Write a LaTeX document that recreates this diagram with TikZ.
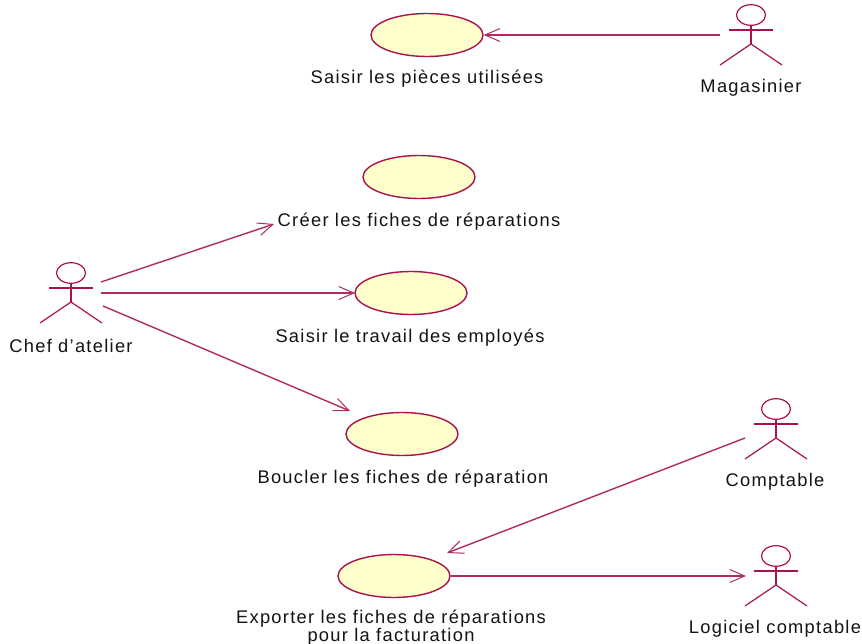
\documentclass[tikz,border=0pt]{standalone}
\usepackage{fontspec}
\setmainfont[LetterSpace=7]{Liberation Sans}
\usetikzlibrary{arrows.meta,shapes.geometric}
\definecolor{umlred}{HTML}{A8134F}
\definecolor{umlline}{HTML}{B02C60}
\definecolor{umlfill}{HTML}{FFFFCC}
\definecolor{umltext}{HTML}{141414}
\tikzset{
  usecase/.style={ellipse,draw=umlred,fill=umlfill,line width=1.4pt,minimum width=112pt,minimum height=43pt,inner sep=0pt},
  label text/.style={text=umltext,font=\fontsize{18.3}{16}\selectfont,inner sep=0pt,align=center},
  assoc/.style={draw=umlline,line width=1.4pt,-{Straight Barb[length=15pt,width=13pt,line width=1pt]}},
  limb/.style={draw=umlred,line width=1.2pt},
  actor/.pic={
    \draw[limb] (0,-20) ellipse (14.5pt and 10.3pt);
    \draw[limb] (-22,-5) -- (22,-5);
    \draw[limb,line width=1.5pt] (0,-10) -- (0,9);
    \draw[limb] (-31,30) -- (0,9) -- (31,30);
  }
}
\begin{document}
\begin{tikzpicture}[x=1pt,y=-1pt]
\useasboundingbox (0,0) rectangle (862,644);
\fill[white] (0,0) rectangle (862,644);
% use cases
\node[usecase] (uc1) at (427,35) {};
\node[usecase] (uc2) at (419,177) {};
\node[usecase] (uc3) at (411,293) {};
\node[usecase] (uc4) at (402,434) {};
\node[usecase] (uc5) at (394,576) {};
% use case labels
\node[label text] (t1) at (427,79) {Saisir les pièces utilisées};
\node[label text] (t2) at (419,222) {Créer les fiches de réparations};
\node[label text] (t3) at (410,338) {Saisir le travail des employés};
\node[label text] (t4) at (403,479) {Boucler les fiches de réparation};
\node[label text] (t5) at (391,628) {Exporter les fiches de réparations\\pour la facturation};
% actors
\pic at (751,35) {actor};
\pic at (71,293) {actor};
\pic at (776,429) {actor};
\pic at (776,576) {actor};
\node[label text] (a1) at (751,88) {Magasinier};
\node[label text] (a2) at (71,346) {Chef d'atelier};
\node[label text] (a3) at (775,482) {Comptable};
\node[label text] (a4) at (775,629) {Logiciel comptable};
% connector ends
\coordinate (mag) at (720,35);
\coordinate (chefa) at (101,282);
\coordinate (chefb) at (101,293);
\coordinate (chefc) at (103,306);
\coordinate (compt) at (745,438);
\coordinate (logi) at (746,576);
\coordinate (crea) at (274,224);
\coordinate (saisi) at (355,293);
\coordinate (bouc) at (350,411);
\coordinate (exp) at (447,553);
\draw[assoc] (mag) -- (uc1.east);
\draw[assoc] (chefa) -- (crea);
\draw[assoc] (chefb) -- (saisi);
\draw[assoc] (chefc) -- (bouc);
\draw[assoc] (compt) -- (exp);
\draw[assoc] (uc5.east) -- (logi);
\end{tikzpicture}
\end{document}
